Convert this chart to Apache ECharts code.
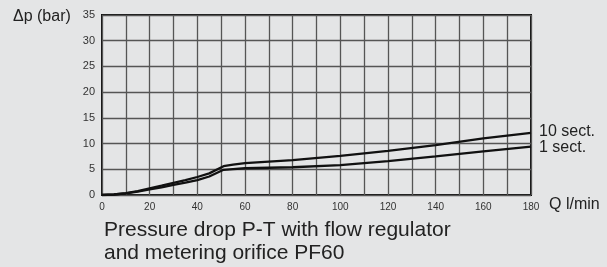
<!DOCTYPE html>
<html>
<head>
<meta charset="utf-8">
<script src="https://cdn.jsdelivr.net/npm/echarts@6/dist/echarts.min.js"></script>
<style>
  html,body{margin:0;padding:0;background:#e4e5e6;}
  #chart{width:607px;height:267px;}
</style>
</head>
<body>
<div id="chart"></div>
<script>
// flow Q (l/min)
const flow = [0, 5, 10, 15, 20, 25, 30, 35, 40, 45, 51, 55, 60, 80, 100, 120, 140, 160, 180]
// pressure drop (bar)
const sect10 = [0, 0.1, 0.35, 0.75, 1.3, 1.8, 2.35, 2.9, 3.5, 4.2, 5.6, 5.9, 6.2, 6.8, 7.6, 8.6, 9.7, 11.0, 12.1]
const sect1 = [0, 0.1, 0.3, 0.65, 1.1, 1.5, 1.95, 2.4, 2.9, 3.6, 4.9, 5.05, 5.2, 5.4, 5.8, 6.6, 7.5, 8.5, 9.4]
const seriesNames = ['10 sect.', '1 sect.']
const captionLines = ['Pressure drop P-T with flow regulator', 'and metering orifice PF60']

const font = 'Liberation Sans, Arial, sans-serif'
const pairs = (ys) => flow.map((q, i) => [q, ys[i]])

const myChart = echarts.init(document.getElementById('chart'))
myChart.setOption({
  backgroundColor: '#e4e5e6',
  animation: false,
  title: {
    text: captionLines.join('\n'),
    left: 99, top: 214,
    textStyle: {fontFamily: font, fontSize: 21, fontWeight: 'normal', color: '#222', lineHeight: 23}
  },
  graphic: [{
    type: 'text', left: 13, top: 9,
    style: {text: 'Δp (bar)', font: '16px ' + font, fill: '#222'}
  }],
  grid: {left: 102, top: 15, right: 76, bottom: 72, show: true, borderColor: '#111', borderWidth: 2, backgroundColor: 'transparent'},
  xAxis: {
    type: 'value', min: 0, max: 180, interval: 10,
    name: 'Q l/min', nameLocation: 'end', nameGap: 18,
    nameTextStyle: {fontFamily: font, fontSize: 16, color: '#222', verticalAlign: 'top', padding: [2, 0, 0, 0]},
    axisLine: {show: false}, axisTick: {show: false},
    axisLabel: {fontFamily: font, fontSize: 10, color: '#333', margin: 7,
      formatter: (v) => v % 20 === 0 ? v : ''},
    splitLine: {lineStyle: {color: '#555', width: 1.3}}
  },
  yAxis: {
    type: 'value', min: 0, max: 35, interval: 5,
    axisLine: {show: false}, axisTick: {show: false},
    axisLabel: {fontFamily: font, fontSize: 11, color: '#333', margin: 7},
    splitLine: {lineStyle: {color: '#555', width: 1.3}}
  },
  series: [sect10, sect1].map((ys, i) => ({
    name: seriesNames[i],
    type: 'line',
    data: pairs(ys),
    showSymbol: false,
    smooth: false,
    lineStyle: {color: '#111', width: 2.3},
    endLabel: {show: true, formatter: seriesNames[i], distance: 8, offset: [0, i === 0 ? -1 : 1],
      fontFamily: font, fontSize: 16, color: '#222'}
  }))
})
</script>
</body>
</html>
